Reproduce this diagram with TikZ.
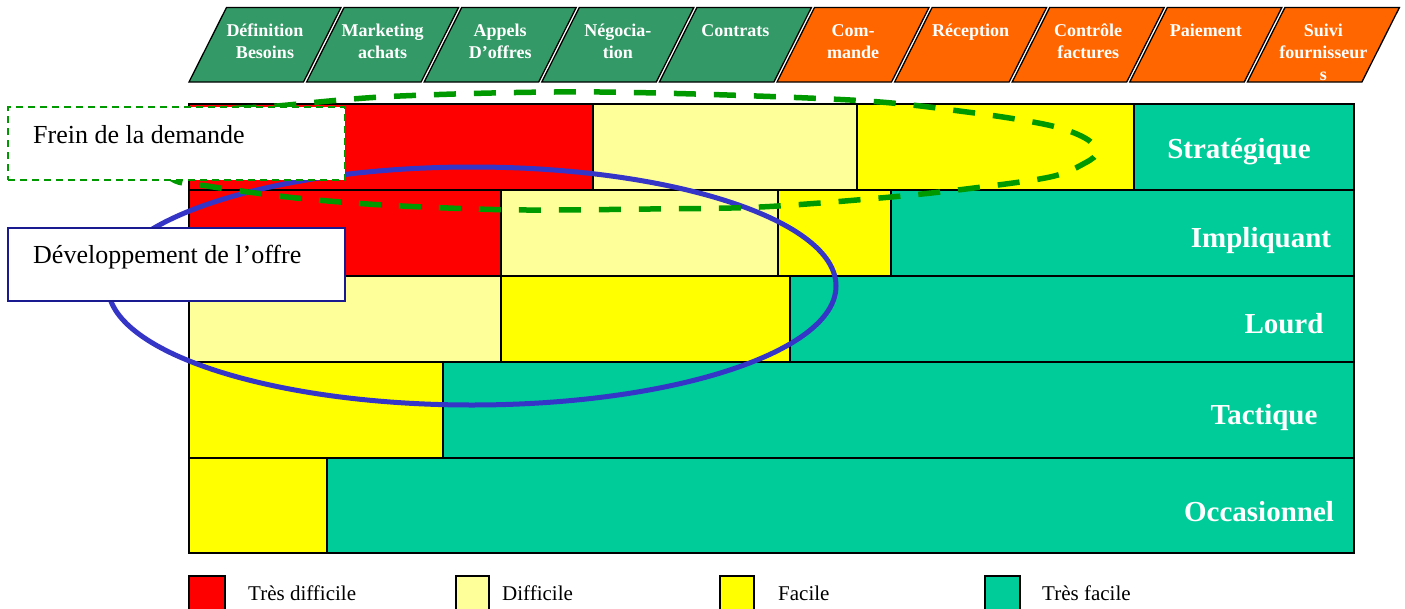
\documentclass[tikz,border=0pt]{standalone}
\usepackage{fontspec}
\setmainfont{Liberation Serif}
\definecolor{cRed}{HTML}{FF0000}
\definecolor{cPale}{HTML}{FFFF99}
\definecolor{cYel}{HTML}{FFFF00}
\definecolor{cTeal}{HTML}{00CC99}
\definecolor{cHdrGreen}{HTML}{339966}
\definecolor{cHdrOrange}{HTML}{FF6600}
\definecolor{cDash}{HTML}{009900}
\definecolor{cBlue}{HTML}{3535C8}
\definecolor{cNavy}{HTML}{1A1A90}
\begin{document}
\begin{tikzpicture}[x=1pt,y=-1pt,
  cell/.style={draw=black,line width=1.3pt},
  hdrbox/.style={draw=black,line width=1.3pt},
  hdrtext/.style={text=white,font=\fontsize{18}{22}\selectfont\bfseries,align=center,anchor=north,inner sep=0pt},
  rowlabel/.style={text=white,font=\fontsize{29}{32}\selectfont\bfseries,anchor=base,inner sep=0pt},
  calloutA/.style={draw=cDash,line width=1.3pt,dash pattern=on 7pt off 5pt,fill=white,minimum width=337pt,minimum height=73pt,inner sep=0pt},
  calloutB/.style={draw=cNavy,line width=1.6pt,fill=white,minimum width=337pt,minimum height=73pt,inner sep=0pt},
  callouttext/.style={font=\fontsize{26}{30}\selectfont,anchor=base west,inner sep=0pt},
  legendbox/.style={draw=black,line width=1.3pt},
  legendtext/.style={font=\fontsize{21}{24}\selectfont,anchor=base west,inner sep=0pt},
  demandloop/.style={draw=cDash,line width=5.5pt,dash pattern=on 22pt off 18pt},
  offerloop/.style={draw=cBlue,line width=5pt}]
\useasboundingbox (0,0) rectangle (1405,608);

% ---- process steps (parallelograms) ----
\foreach \i/\col/\txt in {
  0/cHdrGreen/{Définition\\Besoins},
  1/cHdrGreen/{Marketing\\achats},
  2/cHdrGreen/{Appels\\D’offres},
  3/cHdrGreen/{Négocia-\\tion},
  4/cHdrGreen/{Contrats},
  5/cHdrOrange/{Com-\\mande},
  6/cHdrOrange/{Réception},
  7/cHdrOrange/{Contrôle\\factures},
  8/cHdrOrange/{Paiement},
  9/cHdrOrange/{Suivi\\fournisseur\\s}}{
  \pgfmathsetmacro{\bx}{189+\i*117.6}
  \path[hdrbox,fill=\col] (\bx,82) -- (\bx+114.5,82) -- (\bx+152,7.5) -- (\bx+37.5,7.5) -- cycle;
  \node[hdrtext] (step\i) at (\bx+76,21) {\rule{0pt}{15pt}\txt};
}

% ---- row 1 : Stratégique ----
\path[cell,fill=cRed]  (189,104) rectangle (593,190);
\path[cell,fill=cPale] (593,104) rectangle (857,190);
\path[cell,fill=cYel]  (857,104) rectangle (1134,190);
\path[cell,fill=cTeal] (1134,104) rectangle (1354,190);
% ---- row 2 : Impliquant ----
\path[cell,fill=cRed]  (189,190) rectangle (501,276);
\path[cell,fill=cPale] (501,190) rectangle (778,276);
\path[cell,fill=cYel]  (778,190) rectangle (891,276);
\path[cell,fill=cTeal] (891,190) rectangle (1354,276);
% ---- row 3 : Lourd ----
\path[cell,fill=cPale] (189,276) rectangle (501,362);
\path[cell,fill=cYel]  (501,276) rectangle (790,362);
\path[cell,fill=cTeal] (790,276) rectangle (1354,362);
% ---- row 4 : Tactique ----
\path[cell,fill=cYel]  (189,362) rectangle (443,458);
\path[cell,fill=cTeal] (443,362) rectangle (1354,458);
% ---- row 5 : Occasionnel ----
\path[cell,fill=cYel]  (189,458) rectangle (327,553);
\path[cell,fill=cTeal] (327,458) rectangle (1354,553);

\node[rowlabel] (strat) at (1239,158) {Stratégique};
\node[rowlabel] (impl)  at (1261,247) {Impliquant};
\node[rowlabel] (lourd) at (1284,333) {Lourd};
\node[rowlabel] (tact)  at (1264,424) {Tactique};
\node[rowlabel] (occ)   at (1259,521) {Occasionnel};

% ---- zones ----
\draw[offerloop] (472,286) ellipse [x radius=364, y radius=119];
\draw[demandloop] plot[smooth cycle, tension=0.55] coordinates {
  (150,150) (195,114) (277,106) (400,96) (600,92) (850,100) (967,112)
  (1048,125) (1085,138) (1097,152) (1085,163) (1050,177) (966,189)
  (880,198) (760,207) (650,209) (527,210) (447,208) (367,204)
  (287,197) (207,186) (172,179)};

% ---- callouts ----
\node[calloutA] (frein) at (176.5,143.5) {};
\node[callouttext] (freintxt) at (33,143) {Frein de la demande};
\node[calloutB] (dev) at (176.5,264.5) {};
\node[callouttext] (devtxt) at (33,263) {Développement de l’offre};

% ---- legend ----
\path[legendbox,fill=cRed]  (189,576) rectangle (225,612);
\path[legendbox,fill=cPale] (456,576) rectangle (489,612);
\path[legendbox,fill=cYel]  (720,576) rectangle (754,612);
\path[legendbox,fill=cTeal] (985,576) rectangle (1020,612);
\node[legendtext] (lg1) at (248,600) {Très difficile};
\node[legendtext] (lg2) at (502,600) {Difficile};
\node[legendtext] (lg3) at (778,600) {Facile};
\node[legendtext] (lg4) at (1042,600) {Très facile};
\end{tikzpicture}
\end{document}
